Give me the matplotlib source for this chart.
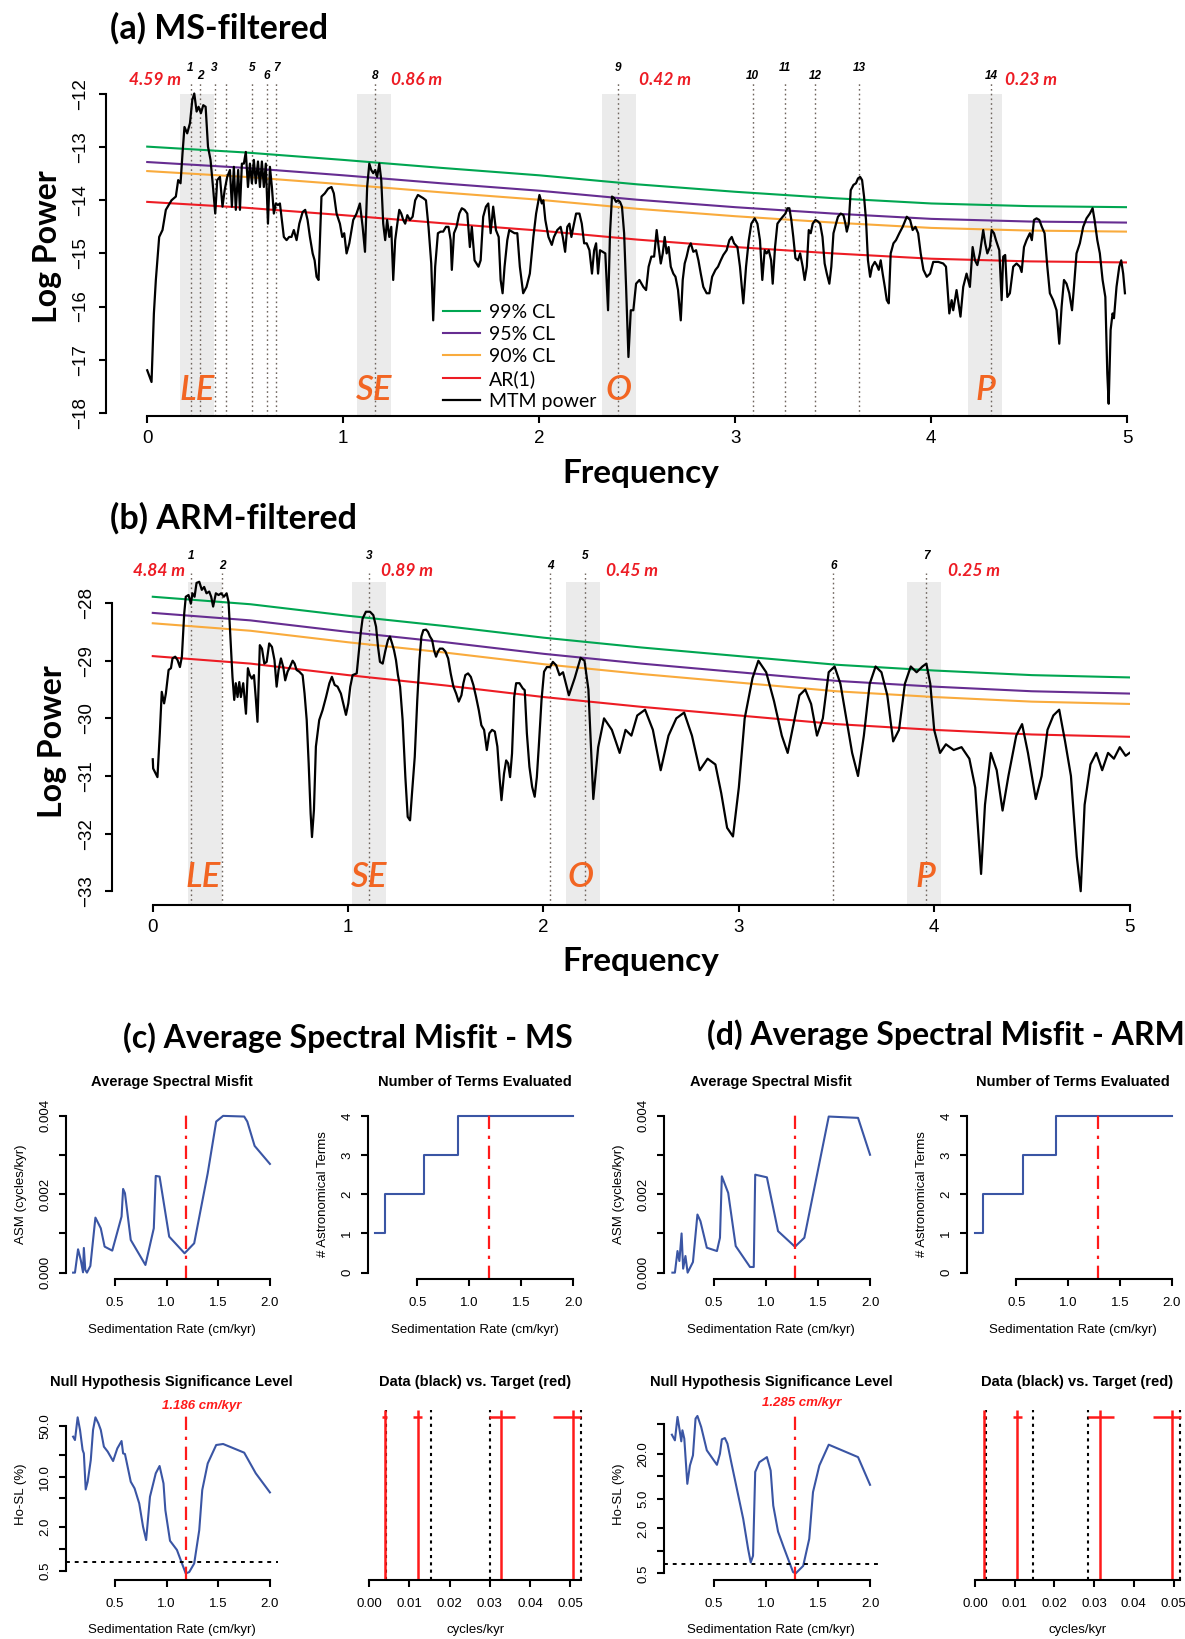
import numpy as np
import matplotlib
matplotlib.use('Agg')
from matplotlib import pyplot as plt
from matplotlib import transforms

# ---------------- (a) MS-filtered MTM spectrum ----------------
freq_a = [0.000, 0.022, 0.034, 0.044, 0.061, 0.078, 0.095, 0.124, 0.146, 0.158,
          0.170, 0.180, 0.190, 0.204, 0.218, 0.230, 0.240, 0.252, 0.262, 0.274,
          0.286, 0.298, 0.310, 0.323, 0.337, 0.347, 0.357, 0.371, 0.384, 0.395,
          0.408, 0.422, 0.432, 0.442, 0.452, 0.464, 0.473, 0.483, 0.493, 0.503,
          0.514, 0.524, 0.534, 0.544, 0.554, 0.565, 0.575, 0.585, 0.595, 0.605,
          0.616, 0.626, 0.636, 0.646, 0.656, 0.667, 0.677, 0.687, 0.697, 0.711,
          0.724, 0.736, 0.748, 0.762, 0.776, 0.793, 0.806, 0.818, 0.830, 0.844,
          0.854, 0.864, 0.874, 0.889, 0.906, 0.923, 0.940, 0.952, 0.966, 0.983,
          0.995, 1.005, 1.017, 1.031, 1.051, 1.068, 1.085, 1.099, 1.111, 1.122,
          1.133, 1.143, 1.153, 1.163, 1.173, 1.184, 1.194, 1.204, 1.214, 1.224,
          1.235, 1.245, 1.255, 1.265, 1.276, 1.286, 1.296, 1.306, 1.316, 1.327,
          1.340, 1.354, 1.367, 1.381, 1.395, 1.408, 1.422, 1.435, 1.449, 1.459,
          1.469, 1.483, 1.497, 1.510, 1.524, 1.537, 1.548, 1.554, 1.565, 1.578,
          1.592, 1.605, 1.619, 1.633, 1.646, 1.656, 1.670, 1.680, 1.690, 1.701,
          1.714, 1.728, 1.740, 1.752, 1.765, 1.779, 1.793, 1.803, 1.813, 1.823,
          1.837, 1.847, 1.861, 1.874, 1.888, 1.901, 1.918, 1.935, 1.952, 1.970,
          1.984, 2.001, 2.013, 2.021, 2.031, 2.047, 2.064, 2.075, 2.092, 2.109,
          2.120, 2.132, 2.143, 2.154, 2.164, 2.174, 2.188, 2.205, 2.217, 2.229,
          2.242, 2.256, 2.269, 2.280, 2.290, 2.300, 2.310, 2.324, 2.337, 2.351,
          2.361, 2.371, 2.382, 2.392, 2.402, 2.412, 2.422, 2.433, 2.443, 2.455,
          2.467, 2.480, 2.494, 2.511, 2.531, 2.545, 2.558, 2.572, 2.586, 2.599,
          2.609, 2.620, 2.630, 2.640, 2.650, 2.660, 2.671, 2.684, 2.695, 2.708,
          2.722, 2.732, 2.742, 2.752, 2.763, 2.773, 2.786, 2.800, 2.812, 2.824,
          2.837, 2.854, 2.868, 2.882, 2.899, 2.912, 2.926, 2.939, 2.956, 2.970,
          2.982, 2.994, 3.011, 3.024, 3.041, 3.055, 3.069, 3.082, 3.099, 3.113,
          3.126, 3.138, 3.150, 3.160, 3.171, 3.183, 3.191, 3.203, 3.215, 3.229,
          3.242, 3.256, 3.266, 3.276, 3.286, 3.296, 3.307, 3.320, 3.331, 3.344,
          3.354, 3.365, 3.375, 3.385, 3.395, 3.409, 3.422, 3.433, 3.445, 3.456,
          3.467, 3.480, 3.490, 3.501, 3.514, 3.524, 3.538, 3.552, 3.562, 3.569,
          3.579, 3.589, 3.603, 3.616, 3.626, 3.637, 3.647, 3.657, 3.667, 3.677,
          3.688, 3.698, 3.712, 3.722, 3.732, 3.742, 3.752, 3.763, 3.773, 3.783,
          3.793, 3.807, 3.820, 3.837, 3.854, 3.875, 3.892, 3.905, 3.919, 3.933,
          3.946, 3.960, 3.977, 3.994, 4.010, 4.036, 4.061, 4.075, 4.092, 4.104,
          4.112, 4.129, 4.149, 4.163, 4.180, 4.197, 4.211, 4.223, 4.235, 4.248,
          4.265, 4.275, 4.286, 4.299, 4.308, 4.320, 4.330, 4.347, 4.359, 4.367,
          4.377, 4.388, 4.401, 4.418, 4.435, 4.452, 4.461, 4.473, 4.486, 4.503,
          4.513, 4.524, 4.537, 4.551, 4.564, 4.578, 4.592, 4.605, 4.622, 4.639,
          4.653, 4.665, 4.677, 4.690, 4.704, 4.718, 4.728, 4.741, 4.758, 4.775,
          4.792, 4.809, 4.823, 4.833, 4.847, 4.860, 4.874, 4.888, 4.898, 4.905,
          4.915, 4.925, 4.932, 4.945, 4.959, 4.969, 4.979, 4.988]
pow_a = [-17.20, -17.42, -16.13, -15.50, -14.69, -14.56, -14.18, -14.00, -13.93, -13.62,
         -13.68, -13.12, -12.62, -12.74, -12.55, -12.11, -11.99, -12.33, -12.24, -12.36,
         -12.21, -12.24, -12.99, -13.24, -13.81, -14.25, -13.62, -13.56, -14.12, -13.81,
         -13.56, -13.43, -14.12, -13.37, -14.18, -13.43, -14.18, -13.31, -13.31, -13.09,
         -13.75, -13.31, -13.68, -13.24, -13.68, -13.27, -13.75, -13.27, -13.75, -13.31,
         -14.44, -13.37, -13.75, -14.25, -14.06, -14.09, -14.06, -14.37, -14.69, -14.75,
         -14.69, -14.69, -14.56, -14.75, -14.44, -14.22, -14.18, -14.37, -14.69, -15.00,
         -15.13, -15.44, -15.50, -13.93, -13.87, -13.78, -13.75, -13.87, -14.25, -14.44,
         -14.69, -14.62, -15.00, -14.81, -14.37, -14.25, -14.06, -14.50, -14.97, -13.75,
         -13.31, -13.43, -13.49, -13.43, -13.56, -13.31, -13.62, -14.44, -14.75, -14.37,
         -14.69, -14.50, -15.50, -14.75, -14.44, -14.18, -14.25, -14.37, -14.44, -14.28,
         -14.37, -14.31, -14.00, -13.90, -13.93, -13.96, -14.00, -14.50, -15.19, -16.26,
         -15.25, -14.62, -14.59, -14.59, -14.50, -14.50, -14.75, -15.31, -14.62, -14.50,
         -14.25, -14.15, -14.18, -14.25, -14.88, -14.50, -15.13, -15.19, -15.25, -15.13,
         -14.31, -14.12, -14.06, -14.62, -14.12, -14.56, -14.69, -15.50, -15.75, -15.25,
         -14.75, -14.56, -14.59, -14.62, -14.62, -15.25, -15.75, -15.63, -15.38, -14.69,
         -14.25, -13.90, -14.06, -14.00, -14.37, -14.69, -14.84, -14.69, -14.56, -14.50,
         -14.69, -14.97, -14.50, -14.44, -14.69, -14.50, -14.25, -14.25, -14.44, -14.81,
         -14.81, -14.94, -15.38, -14.94, -14.81, -15.38, -14.94, -14.97, -15.00, -16.07,
         -14.62, -13.93, -13.96, -14.03, -14.00, -14.03, -14.12, -14.62, -15.63, -16.95,
         -16.07, -16.07, -15.57, -15.50, -15.63, -15.69, -15.25, -15.06, -15.06, -14.56,
         -14.88, -15.19, -15.00, -14.69, -15.00, -14.88, -15.25, -15.38, -15.44, -15.69,
         -16.26, -15.50, -15.19, -15.06, -14.88, -14.81, -14.97, -14.94, -15.13, -15.38,
         -15.63, -15.75, -15.75, -15.44, -15.31, -15.25, -15.13, -15.03, -14.94, -14.75,
         -14.69, -14.81, -14.88, -15.25, -15.94, -15.25, -14.75, -14.44, -14.34, -14.44,
         -14.75, -15.50, -14.94, -15.00, -14.94, -15.13, -15.57, -14.88, -14.44, -14.37,
         -14.31, -14.25, -14.15, -14.15, -14.37, -14.69, -15.09, -15.13, -15.00, -15.25,
         -15.50, -15.25, -14.56, -14.62, -14.44, -14.37, -14.40, -14.44, -14.69, -15.19,
         -15.38, -15.57, -15.25, -14.62, -14.44, -14.31, -14.25, -14.28, -14.44, -14.59,
         -14.44, -13.81, -13.71, -13.68, -13.59, -13.56, -13.62, -13.93, -14.37, -15.13,
         -15.44, -15.25, -15.16, -15.22, -15.31, -15.13, -15.38, -15.63, -15.88, -15.94,
         -15.00, -14.81, -14.75, -14.62, -14.50, -14.31, -14.37, -14.56, -14.50, -14.62,
         -15.00, -15.31, -15.44, -15.38, -15.16, -15.16, -15.19, -15.25, -16.13, -15.88,
         -16.07, -15.69, -16.19, -15.63, -15.38, -15.63, -14.88, -15.13, -15.22, -15.00,
         -14.56, -14.81, -15.00, -14.88, -14.56, -14.62, -14.75, -14.94, -15.88, -15.06,
         -15.03, -15.82, -15.75, -15.25, -15.19, -15.25, -15.35, -14.88, -14.75, -14.62,
         -14.75, -14.37, -14.34, -14.37, -14.50, -14.62, -15.25, -15.75, -15.88, -16.07,
         -16.70, -16.00, -15.50, -15.57, -15.75, -16.07, -15.63, -15.00, -14.81, -14.50,
         -14.34, -14.25, -14.15, -14.37, -14.75, -15.00, -15.50, -15.82, -17.26, -17.83,
         -16.44, -16.13, -16.22, -15.63, -15.25, -15.13, -15.38, -15.75]

cl_freq = [0.0, 0.5, 1.0, 1.5, 2.0, 2.5, 3.0, 3.5, 4.0, 4.5, 5.0]
ar1_a = [-14.03, -14.14, -14.28, -14.43, -14.57, -14.74, -14.88, -15.00, -15.10, -15.15, -15.17]
cl90_a = [-13.45, -13.56, -13.70, -13.85, -13.99, -14.16, -14.30, -14.42, -14.52, -14.57, -14.59]
cl95_a = [-13.28, -13.39, -13.53, -13.68, -13.82, -13.99, -14.13, -14.25, -14.35, -14.40, -14.42]
cl99_a = [-12.99, -13.10, -13.24, -13.39, -13.53, -13.70, -13.84, -13.96, -14.06, -14.11, -14.13]

bands_a = [(0.167, 0.340), (1.070, 1.244), (2.318, 2.493), (4.189, 4.361)]
band_x_a = [0.256, 1.157, 2.405, 4.276]
peaks_a = [0.221, 0.269, 0.344, 0.401, 0.534, 0.612, 0.658, 1.163, 2.400,
           3.089, 3.252, 3.407, 3.631, 4.305]
peak_lab_a = ['1', '2', '3', '', '5', '6', '7', '8', '9', '10', '11', '12', '13', '14']
peak_row_a = [1, 0, 1, 0, 1, 0, 1, 0, 1, 0, 1, 0, 1, 0]
period_a = [('4.59 m', 0.172, 'right'), ('0.86 m', 1.245, 'left'),
            ('0.42 m', 2.511, 'left'), ('0.23 m', 4.376, 'left')]

# ---------------- (b) ARM-filtered MTM spectrum ----------------
freq_b = [0.000, 0.002, 0.024, 0.036, 0.046, 0.058, 0.067, 0.081, 0.093, 0.101,
          0.115, 0.127, 0.139, 0.149, 0.161, 0.169, 0.183, 0.195, 0.203, 0.214,
          0.224, 0.238, 0.251, 0.263, 0.275, 0.289, 0.299, 0.309, 0.323, 0.337,
          0.350, 0.364, 0.378, 0.388, 0.400, 0.408, 0.417, 0.425, 0.434, 0.443,
          0.451, 0.463, 0.477, 0.487, 0.497, 0.507, 0.518, 0.528, 0.536, 0.548,
          0.559, 0.571, 0.583, 0.596, 0.610, 0.623, 0.634, 0.644, 0.656, 0.668,
          0.678, 0.690, 0.702, 0.716, 0.726, 0.736, 0.750, 0.767, 0.777, 0.788,
          0.798, 0.808, 0.815, 0.825, 0.835, 0.852, 0.869, 0.887, 0.904, 0.917,
          0.931, 0.946, 0.963, 0.975, 0.989, 1.001, 1.011, 1.023, 1.044, 1.054,
          1.064, 1.074, 1.091, 1.112, 1.129, 1.143, 1.153, 1.163, 1.177, 1.191,
          1.204, 1.214, 1.225, 1.235, 1.245, 1.255, 1.266, 1.279, 1.293, 1.305,
          1.317, 1.327, 1.341, 1.354, 1.365, 1.375, 1.385, 1.399, 1.409, 1.419,
          1.430, 1.440, 1.450, 1.460, 1.470, 1.484, 1.498, 1.512, 1.525, 1.539,
          1.553, 1.566, 1.580, 1.590, 1.600, 1.614, 1.628, 1.641, 1.655, 1.669,
          1.682, 1.696, 1.710, 1.723, 1.737, 1.751, 1.764, 1.775, 1.785, 1.798,
          1.809, 1.819, 1.829, 1.839, 1.850, 1.860, 1.877, 1.894, 1.904, 1.915,
          1.928, 1.942, 1.955, 1.966, 1.976, 1.990, 2.003, 2.017, 2.034, 2.048,
          2.065, 2.082, 2.10, 2.13, 2.16, 2.19, 2.21, 2.23, 2.255, 2.28,
          2.31, 2.35, 2.39, 2.42, 2.45, 2.48, 2.52, 2.56, 2.60, 2.64,
          2.68, 2.72, 2.76, 2.80, 2.84, 2.88, 2.91, 2.94, 2.97, 3.00,
          3.03, 3.07, 3.10, 3.14, 3.18, 3.22, 3.25, 3.28, 3.31, 3.34, 3.37,
          3.40, 3.43, 3.46, 3.49, 3.52, 3.55, 3.58, 3.61, 3.64, 3.67,
          3.70, 3.73, 3.76, 3.79, 3.82, 3.85, 3.88, 3.91, 3.94, 3.96,
          3.98, 4.00, 4.03, 4.06, 4.10, 4.14, 4.18, 4.21, 4.24, 4.26,
          4.29, 4.32, 4.35, 4.38, 4.42, 4.45, 4.48, 4.52, 4.55, 4.58,
          4.61, 4.64, 4.67, 4.70, 4.73, 4.75, 4.77, 4.80, 4.83, 4.86,
          4.89, 4.92, 4.95, 4.98, 5.00]
pow_b = [-30.71, -30.87, -31.02, -30.26, -29.54, -29.74, -29.57, -29.16, -29.13, -28.96,
         -28.93, -28.99, -29.11, -28.93, -28.18, -27.89, -27.86, -28.01, -27.83, -27.89,
         -27.65, -27.63, -27.77, -27.72, -27.83, -27.80, -27.89, -28.06, -27.83, -27.86,
         -27.83, -27.89, -27.83, -27.98, -28.76, -29.28, -29.68, -29.39, -29.63, -29.37,
         -29.63, -29.39, -29.92, -29.13, -29.25, -29.31, -29.25, -29.68, -30.06, -28.73,
         -28.79, -29.05, -29.02, -28.70, -28.76, -28.99, -29.45, -29.16, -28.96, -29.11,
         -29.34, -29.19, -29.11, -29.00, -29.05, -29.16, -29.19, -29.25, -29.57, -30.03,
         -30.78, -31.65, -32.06, -31.59, -30.49, -30.03, -29.86, -29.63, -29.39, -29.28,
         -29.42, -29.45, -29.57, -29.74, -29.94, -29.74, -29.45, -29.25, -29.22, -28.87,
         -28.53, -28.27, -28.15, -28.15, -28.21, -28.41, -28.76, -29.02, -29.05, -28.82,
         -28.64, -28.58, -28.70, -28.82, -28.99, -29.25, -29.45, -30.03, -31.02, -31.71,
         -31.77, -31.30, -30.67, -29.68, -28.99, -28.58, -28.47, -28.46, -28.50, -28.58,
         -28.64, -28.82, -28.93, -28.84, -28.79, -28.79, -28.84, -28.96, -29.22, -29.45,
         -29.57, -29.71, -29.60, -29.39, -29.25, -29.22, -29.28, -29.42, -29.63, -29.86,
         -30.12, -30.20, -30.55, -30.26, -30.20, -30.23, -30.49, -31.02, -31.42, -30.96,
         -30.73, -30.78, -31.02, -30.61, -29.63, -29.39, -29.39, -29.48, -29.51, -30.26,
         -30.84, -31.19, -31.36, -31.02, -30.49, -29.68, -29.19, -29.11, -29.11, -29.02,
         -29.08, -29.25, -29.20, -29.60, -29.30, -28.95, -29.00, -29.50, -31.40, -30.50,
         -30.00, -30.20, -30.60, -30.20, -30.30, -29.95, -29.85, -30.20, -30.90, -30.30,
         -30.00, -29.90, -30.30, -30.90, -30.70, -30.80, -31.30, -31.90, -32.05, -31.20,
         -30.00, -29.30, -29.00, -29.20, -29.70, -30.30, -30.60, -30.10, -29.60, -29.50, -29.75,
         -30.30, -30.00, -29.20, -29.10, -29.40, -30.00, -30.60, -31.00, -30.30, -29.40,
         -29.10, -29.20, -29.60, -30.40, -30.20, -29.40, -29.10, -29.20, -29.10, -29.05,
         -29.40, -30.20, -30.60, -30.45, -30.55, -30.50, -30.70, -31.20, -32.70, -31.50,
         -30.60, -30.90, -31.60, -31.00, -30.30, -30.10, -30.60, -31.40, -31.00, -30.20,
         -29.95, -29.85, -30.40, -31.00, -32.40, -33.00, -31.50, -30.80, -30.60, -30.90,
         -30.60, -30.70, -30.50, -30.65, -30.60]

ar1_b = [-28.92, -29.05, -29.25, -29.43, -29.63, -29.80, -29.95, -30.10, -30.20, -30.28, -30.32]
cl90_b = [-28.35, -28.48, -28.68, -28.86, -29.06, -29.23, -29.38, -29.53, -29.63, -29.71, -29.75]
cl95_b = [-28.17, -28.30, -28.50, -28.68, -28.88, -29.05, -29.20, -29.35, -29.45, -29.53, -29.57]
cl99_b = [-27.89, -28.02, -28.22, -28.40, -28.60, -28.77, -28.92, -29.07, -29.17, -29.25, -29.29]

bands_b = [(0.178, 0.354), (1.020, 1.194), (2.113, 2.287), (3.860, 4.035)]
band_x_b = [0.257, 1.108, 2.190, 3.956]
peaks_b = [0.198, 0.356, 1.109, 2.034, 2.214, 3.484, 3.958]
peak_lab_b = ['1', '2', '3', '4', '5', '6', '7']
peak_row_b = [1, 0, 1, 0, 1, 0, 1]
period_b = [('4.84 m', 0.166, 'right'), ('0.89 m', 1.167, 'left'),
            ('0.45 m', 2.318, 'left'), ('0.25 m', 4.069, 'left')]
band_names = ['LE', 'SE', 'O', 'P']

# ---------------- (c)/(d) average spectral misfit ----------------
rate_asm_ms = [0.095, 0.113, 0.143, 0.169, 0.191, 0.199, 0.213, 0.229, 0.262, 0.311,
               0.363, 0.400, 0.474, 0.564, 0.579, 0.597, 0.653, 0.795, 0.876, 0.895,
               0.932, 1.025, 1.174, 1.267, 1.398, 1.480, 1.547, 1.751, 1.781, 1.852, 2.000]
asm_ms = [0.0, 0.0, 0.000596, 0.000323, 0.0000085, 0.00063, 0.000068, 0.0, 0.00017, 0.001404,
          0.001132, 0.000664, 0.000562, 0.00143, 0.002136, 0.002026, 0.000834, 0.000196, 0.001132, 0.002468,
          0.002451, 0.000919, 0.000494, 0.000749, 0.002536, 0.003855, 0.004, 0.003983, 0.003855, 0.003234, 0.002774]
rate_asm_arm = [0.105, 0.129, 0.154, 0.172, 0.193, 0.208, 0.230, 0.251, 0.302, 0.345,
                0.374, 0.435, 0.532, 0.561, 0.579, 0.640, 0.712, 0.849, 0.885, 0.899,
                1.011, 1.118, 1.280, 1.370, 1.604, 1.885, 2.000]
asm_arm = [0.0, 0.0, 0.000551, 0.000297, 0.001, 0.000102, 0.000424, 0.0, 0.000271, 0.001483,
           0.001314, 0.000636, 0.000551, 0.00089, 0.002458, 0.002034, 0.000678, 0.000144, 0.000144, 0.0025,
           0.002432, 0.001059, 0.000661, 0.00089, 0.003983, 0.003949, 0.003008]

rate_terms_ms = [0.093, 0.186, 0.566, 0.888, 2.0]
rate_terms_arm = [0.102, 0.181, 0.565, 0.886, 2.0]
n_terms = [1, 2, 3, 4, 4]

rate_hosl_ms = [0.095, 0.113, 0.139, 0.162, 0.187, 0.199, 0.217, 0.236, 0.266, 0.288,
                0.311, 0.340, 0.363, 0.393, 0.430, 0.482, 0.523, 0.564, 0.579, 0.597,
                0.653, 0.690, 0.735, 0.772, 0.802, 0.839, 0.895, 0.932, 0.970, 0.988,
                1.033, 1.100, 1.137, 1.185, 1.219, 1.267, 1.316, 1.345, 1.398, 1.480,
                1.547, 1.751, 1.863, 2.000]
hosl_ms = [35.6, 32.0, 65.8, 44.0, 23.3, 20.9, 6.65, 8.49, 16.9, 44.0,
           65.8, 54.3, 44.0, 25.9, 22.1, 16.4, 24.5, 31.0, 20.9, 20.5,
           8.49, 6.87, 4.26, 2.03, 1.33, 5.27, 11.1, 14.0, 8.05, 3.44,
           1.30, 0.97, 0.70, 0.46, 0.48, 0.63, 1.82, 6.52, 15.2, 27.3,
           28.2, 21.4, 11.1, 6.05]
rate_hosl_arm = [0.100, 0.129, 0.154, 0.172, 0.190, 0.201, 0.219, 0.248, 0.273, 0.302,
                 0.327, 0.345, 0.381, 0.435, 0.532, 0.561, 0.579, 0.608, 0.633, 0.669,
                 0.723, 0.784, 0.831, 0.856, 0.878, 0.899, 0.939, 1.011, 1.047, 1.072,
                 1.118, 1.172, 1.227, 1.262, 1.287, 1.359, 1.417, 1.453, 1.514, 1.604,
                 1.885, 2.000]
hosl_arm = [35.9, 30.2, 62.1, 43.3, 29.3, 41.1, 31.8, 7.9, 13.9, 19.0,
            59.0, 64.0, 45.6, 22.2, 14.2, 20.0, 31.1, 32.4, 27.2, 15.4,
            6.78, 2.68, 1.06, 0.70, 0.86, 11.4, 15.4, 18.0, 11.9, 4.04,
            1.81, 1.12, 0.70, 0.52, 0.50, 0.63, 1.45, 6.11, 13.9, 26.4,
            18.0, 7.67]
hosl_cut = 0.667

best_ms, best_arm = 1.186, 1.285

data_ms = [0.00413, 0.01533, 0.0300, 0.0527]
target_ms = [0.00383, 0.01208, 0.03288, 0.05078]
target_lo_ms = [0.0033, 0.0109, 0.0297, 0.0457]
target_hi_ms = [0.0044, 0.0132, 0.0362, 0.0527]
data_arm = [0.00264, 0.01450, 0.02857, 0.0515]
target_arm = [0.00233, 0.01064, 0.03149, 0.04962]
target_lo_arm = [0.0020, 0.0095, 0.0284, 0.0447]
target_hi_arm = [0.0027, 0.0119, 0.0350, 0.0518]

# ---------------- style ----------------
MYR = ['Lato', 'DejaVu Sans']
ARL = ['Liberation Sans', 'DejaVu Sans']
C_GREEN = '#00a651'
C_PURPLE = '#662d91'
C_ORANGE = '#f9ab3d'
C_RED = '#ed1c24'
C_BAND = '#ebebeb'
C_TAG = '#f26522'
C_PEAK = '#6f655e'
C_BLUE = '#3a55a4'
R_RED = '#ff1a1a'

fig = plt.figure(figsize=(11.85, 16.39), dpi=100)


def spectrum(rect, ylim, yticks, freq, power, ar1, cl90, cl95, cl99, bands, band_x, band_top,
             tag_y, peaks, labs, rows, line_top, row_y, periods, period_y, legend=False):
    ax = fig.add_axes(rect)
    ax.set_xlim(-0.21, 5.0)
    ax.set_ylim(*ylim)
    for (lo, hi) in bands:
        ax.fill_between([lo, hi], ylim[0], band_top, color=C_BAND, lw=0, zorder=0)
    ax.vlines(peaks, ylim[0], line_top, colors=C_PEAK, linestyles=(0, (1.2, 2.2)),
              lw=1.0, clip_on=False, zorder=1)
    for x, lab, r in zip(peaks, labs, rows):
        ax.text(x, row_y[r], lab, ha='center', va='center', fontsize=8.5,
                style='italic', weight='bold', family=ARL)
    for txt, x, ha in periods:
        ax.text(x, period_y, txt, ha=ha, va='center', fontsize=12.5, color=C_RED,
                style='italic', weight='bold', family=MYR)
    for name, x in zip(band_names, band_x):
        ax.text(x, tag_y, name, ha='center', va='center', fontsize=25, color=C_TAG,
                style='italic', weight='semibold', family=MYR, zorder=6)
    ax.plot(cl_freq, cl99, color=C_GREEN, lw=1.5, label='99% CL', zorder=2)
    ax.plot(cl_freq, cl95, color=C_PURPLE, lw=1.5, label='95% CL', zorder=2)
    ax.plot(cl_freq, cl90, color=C_ORANGE, lw=1.5, label='90% CL', zorder=2)
    ax.plot(cl_freq, ar1, color=C_RED, lw=1.5, label='AR(1)', zorder=2)
    ax.plot(freq, power, color='k', lw=1.6, label='MTM power', zorder=4)
    for s in ['top', 'right']:
        ax.spines[s].set_visible(False)
    ax.spines['left'].set_bounds(yticks[-1], yticks[0])
    ax.spines['bottom'].set_bounds(0, 5)
    for s in ['left', 'bottom']:
        ax.spines[s].set_linewidth(1.5)
    ax.set_xticks(range(6))
    ax.set_xticklabels([str(i) for i in range(6)])
    ax.set_yticks(yticks)
    ax.set_yticklabels(['\u2212%d' % abs(v) for v in yticks])
    ax.tick_params(direction='out', length=5.2, width=1.5, labelsize=13.5)
    ax.tick_params(axis='x', pad=5)
    ax.tick_params(axis='y', pad=7, labelrotation=90)
    for lab in ax.get_xticklabels() + ax.get_yticklabels():
        lab.set_family(ARL)
    plt.setp(ax.get_yticklabels(), va='center')
    if legend:
        ax.legend(loc='upper left', bbox_to_anchor=(0.330, 0.345), frameon=False,
                  prop={'family': MYR, 'size': 14}, handlelength=1.9, handletextpad=0.45,
                  labelspacing=0.26, borderpad=0, borderaxespad=0)
    return ax


spectrum([0.0895, 0.7462, 0.8618, 0.1987], (-18.06, -11.93), [-12, -13, -14, -15, -16, -17, -18],
         freq_a, pow_a, ar1_a, cl90_a, cl95_a, cl99_a, bands_a, band_x_a, -12.0, -17.57,
         peaks_a, peak_lab_a, peak_row_a, -11.80, {1: -11.51, 0: -11.67}, period_a, -11.73,
         legend=True)
spectrum([0.0943, 0.4478, 0.8589, 0.1983], (-33.24, -27.6), [-28, -29, -30, -31, -32, -33],
         freq_b, pow_b, ar1_b, cl90_b, cl95_b, cl99_b, bands_b, band_x_b, -27.64, -32.76,
         peaks_b, peak_lab_b, peak_row_b, -27.47, {1: -27.18, 0: -27.35}, period_b, -27.44)

fig.text(0.0928, 0.983, '(a) MS-filtered', fontsize=24.5, weight='bold', family=MYR, va='center')
fig.text(0.0928, 0.6836, '(b) ARM-filtered', fontsize=24.5, weight='bold', family=MYR, va='center')
fig.text(0.0397, 0.8495, 'Log Power', fontsize=23, weight='bold', family=MYR, rotation=90,
         ha='center', va='center')
fig.text(0.0440, 0.5473, 'Log Power', fontsize=23, weight='bold', family=MYR, rotation=90,
         ha='center', va='center')
fig.text(0.5405, 0.7112, 'Frequency', fontsize=24, weight='bold', family=MYR, ha='center', va='center')
fig.text(0.5405, 0.4135, 'Frequency', fontsize=24, weight='bold', family=MYR, ha='center', va='center')
fig.text(0.1038, 0.3669, '(c) Average Spectral Misfit - MS', fontsize=23, weight='bold',
         family=MYR, va='center')
fig.text(0.5970, 0.3688, '(d) Average Spectral Misfit - ARM', fontsize=23, weight='bold',
         family=MYR, va='center')


def r_axes(rect, xlim, ylim, xticks, xlabs, yticks, ylabs, xlabel, ylabel, title, ylog=False,
           noy=False, xbound=None):
    ax = fig.add_axes(rect)
    if ylog:
        ax.set_yscale('log')
    ax.set_xlim(*xlim)
    ax.set_ylim(*ylim)
    for s in ['top', 'right']:
        ax.spines[s].set_visible(False)
    for s in ['left', 'bottom']:
        ax.spines[s].set_linewidth(1.5)
    ax.set_xticks(xticks)
    ax.set_xticklabels(xlabs)
    ax.spines['bottom'].set_bounds(*(xbound or (xticks[0], xticks[-1])))
    if noy:
        ax.spines['left'].set_visible(False)
        ax.set_yticks([])
    else:
        ax.set_yticks(yticks)
        ax.set_yticklabels(ylabs)
        ax.minorticks_off()
        ax.spines['left'].set_bounds(yticks[0], yticks[-1])
        ax.set_ylabel(ylabel, family=ARL, fontsize=9.5, labelpad=9)
    ax.tick_params(direction='out', length=5, width=1.5, labelsize=9.5)
    ax.tick_params(axis='x', pad=8)
    ax.tick_params(axis='y', pad=5.5, labelrotation=90)
    plt.setp(ax.get_yticklabels(), va='center')
    for lab in ax.get_xticklabels() + ax.get_yticklabels():
        lab.set_family(ARL)
    ax.set_xlabel(xlabel, family=ARL, fontsize=9.5, labelpad=10.5)
    ax.set_title(title, family=ARL, fontsize=10.5, weight='bold', pad=17)
    return ax


rx = [0.5, 1.0, 1.5, 2.0]
rxl = ['0.5', '1.0', '1.5', '2.0']
srate = 'Sedimentation Rate (cm/kyr)'
asm_ticks = [0, 0.001, 0.002, 0.003, 0.004]
asm_labs = ['0.000', '', '0.002', '', '0.004']
hs_ticks = [0.5, 1, 2, 5, 10, 20, 50]
fx = [0, 0.01, 0.02, 0.03, 0.04, 0.05]
fxl = ['0.00', '0.01', '0.02', '0.03', '0.04', '0.05']

top_b, top_h = 0.2197, 0.1033
bot_b, bot_h = 0.0362, 0.1037

for (left1, left2, w1, w2, rate_asm, asm, rate_t, best, rate_h, hosl, hs_labs, hs_ylim,
     lab_y, data_f, tgt_f, tgt_lo, tgt_hi, left4, w4, fmax) in [
        (0.0555, 0.3104, 0.1789, 0.1801, rate_asm_ms, asm_ms, rate_terms_ms, best_ms,
         rate_hosl_ms, hosl_ms, ['0.5', '', '2.0', '', '10.0', '', '50.0'], (0.377, 83.9),
         1.022, data_ms, target_ms, target_lo_ms, target_hi_ms, 0.3116, 0.1786, 0.0527),
        (0.5603, 0.8159, 0.1806, 0.1796, rate_asm_arm, asm_arm, rate_terms_arm, best_arm,
         rate_hosl_arm, hosl_arm, ['0.5', '', '2.0', '5.0', '', '20.0', ''], (0.412, 77.6),
         1.041, data_arm, target_arm, target_lo_arm, target_hi_arm, 0.8228, 0.1729, 0.0516)]:

    ax1 = r_axes([left1, top_b, w1, top_h], (0.024, 2.076), (-0.00016, 0.00416), rx, rxl,
                 asm_ticks, asm_labs, srate, 'ASM (cycles/kyr)', 'Average Spectral Misfit')
    ax1.plot(rate_asm, asm, color=C_BLUE, lw=1.5)
    ax1.axvline(best, color=R_RED, lw=1.6, ls=(0, (6, 3, 1.5, 3)))

    ax2 = r_axes([left2, top_b, w2, top_h], (0.024, 2.076), (-0.16, 4.16), rx, rxl,
                 [0, 1, 2, 3, 4], ['0', '1', '2', '3', '4'], srate, '# Astronomical Terms',
                 'Number of Terms Evaluated')
    ax2.plot(rate_t, n_terms, color=C_BLUE, lw=1.5, drawstyle='steps-post')
    ax2.axvline(best, color=R_RED, lw=1.6, ls=(0, (6, 3, 1.5, 3)))

    ax3 = r_axes([left1, bot_b, w1, bot_h], (0.024, 2.076), hs_ylim, rx, rxl,
                 hs_ticks, hs_labs, srate, 'Ho-SL (%)', 'Null Hypothesis Significance Level',
                 ylog=True)
    ax3.plot(rate_h, hosl, color=C_BLUE, lw=1.5)
    ax3.axvline(best, color=R_RED, lw=1.6, ls=(0, (6, 3, 1.5, 3)))
    ax3.axhline(hosl_cut, color='k', lw=1.4, ls=(0, (2, 2.5)))
    tr = transforms.blended_transform_factory(ax3.transData, ax3.transAxes)
    ax3.text(1.34, lab_y, '%.3f cm/kyr' % best, transform=tr, ha='center', va='center',
             color=R_RED, fontsize=9.5, weight='bold', style='italic', family=ARL)

    ax4 = r_axes([left4, bot_b, w4, bot_h], (0, fmax), (0, 1), fx, fxl, None, None,
                 'cycles/kyr', None, 'Data (black) vs. Target (red)', noy=True,
                 xbound=(0, fmax))
    ax4.vlines(data_f, 0, 1, colors='k', lw=1.5, linestyles=(0, (1.5, 2)), clip_on=False)
    ax4.vlines(tgt_f, 0, 1, colors=R_RED, lw=1.8, clip_on=False)
    ax4.hlines([0.96] * len(tgt_f), tgt_lo, tgt_hi, colors=R_RED, lw=1.8, clip_on=False)

fig.savefig('out.png', dpi=100)
